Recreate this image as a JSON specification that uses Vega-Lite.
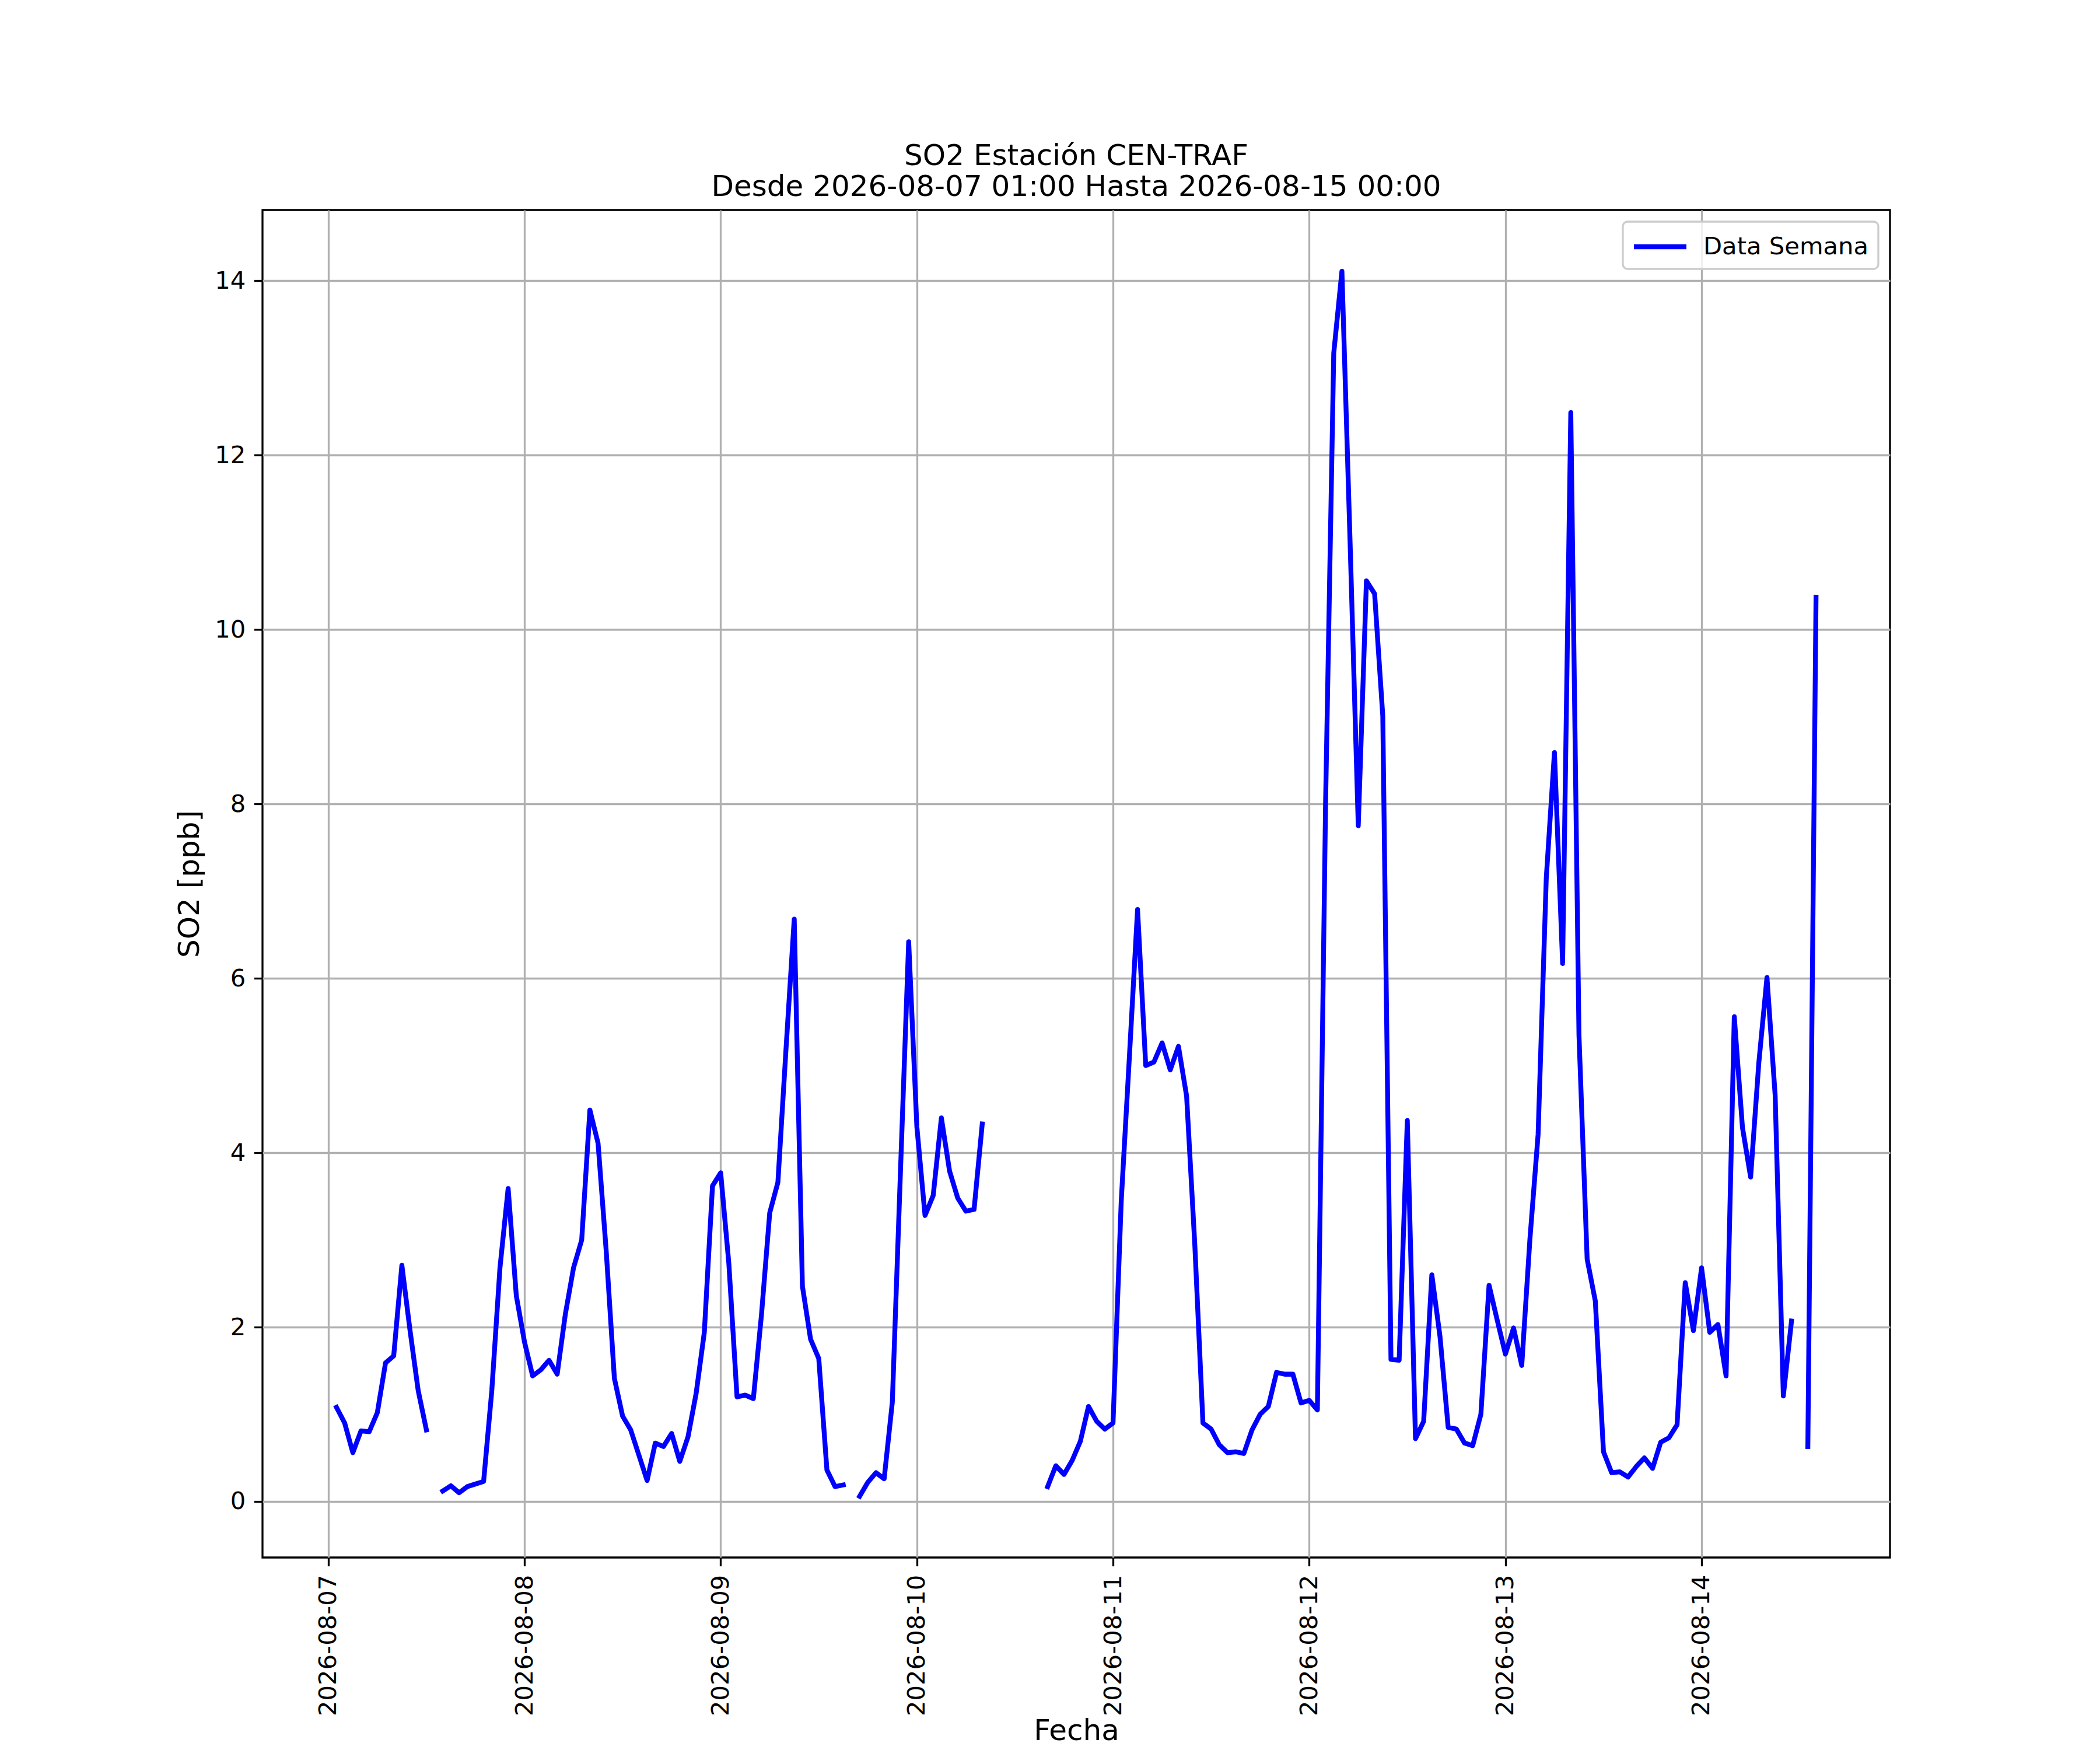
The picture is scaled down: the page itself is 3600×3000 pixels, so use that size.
{
  "$schema": "https://vega.github.io/schema/vega-lite/v6.json",
  "width": 2790,
  "height": 2310,
  "autosize": {"type": "none"},
  "padding": {"left": 450, "top": 360, "right": 360, "bottom": 330},
  "background": "white",
  "title": {
    "text": ["SO2 Estación CEN-TRAF", "Desde 2026-08-07 01:00 Hasta 2026-08-15 00:00"],
    "fontSize": 50,
    "font": "DejaVu Sans",
    "fontWeight": "normal",
    "color": "black",
    "anchor": "middle",
    "offset": 14,
    "lineHeight": 53
  },
  "data": {
    "values": [
      {"t": "2026-08-07T01:00", "v": 1.08, "seg": 1, "serie": "Data Semana"},
      {"t": "2026-08-07T02:00", "v": 0.90, "seg": 1, "serie": "Data Semana"},
      {"t": "2026-08-07T03:00", "v": 0.56, "seg": 1, "serie": "Data Semana"},
      {"t": "2026-08-07T04:00", "v": 0.81, "seg": 1, "serie": "Data Semana"},
      {"t": "2026-08-07T05:00", "v": 0.80, "seg": 1, "serie": "Data Semana"},
      {"t": "2026-08-07T06:00", "v": 1.02, "seg": 1, "serie": "Data Semana"},
      {"t": "2026-08-07T07:00", "v": 1.59, "seg": 1, "serie": "Data Semana"},
      {"t": "2026-08-07T08:00", "v": 1.67, "seg": 1, "serie": "Data Semana"},
      {"t": "2026-08-07T09:00", "v": 2.71, "seg": 1, "serie": "Data Semana"},
      {"t": "2026-08-07T10:00", "v": 1.96, "seg": 1, "serie": "Data Semana"},
      {"t": "2026-08-07T11:00", "v": 1.27, "seg": 1, "serie": "Data Semana"},
      {"t": "2026-08-07T12:00", "v": 0.82, "seg": 1, "serie": "Data Semana"},

      {"t": "2026-08-07T14:00", "v": 0.12, "seg": 2, "serie": "Data Semana"},
      {"t": "2026-08-07T15:00", "v": 0.18, "seg": 2, "serie": "Data Semana"},
      {"t": "2026-08-07T16:00", "v": 0.10, "seg": 2, "serie": "Data Semana"},
      {"t": "2026-08-07T17:00", "v": 0.17, "seg": 2, "serie": "Data Semana"},
      {"t": "2026-08-07T18:00", "v": 0.20, "seg": 2, "serie": "Data Semana"},
      {"t": "2026-08-07T19:00", "v": 0.23, "seg": 2, "serie": "Data Semana"},
      {"t": "2026-08-07T20:00", "v": 1.27, "seg": 2, "serie": "Data Semana"},
      {"t": "2026-08-07T21:00", "v": 2.68, "seg": 2, "serie": "Data Semana"},
      {"t": "2026-08-07T22:00", "v": 3.59, "seg": 2, "serie": "Data Semana"},
      {"t": "2026-08-07T23:00", "v": 2.36, "seg": 2, "serie": "Data Semana"},
      {"t": "2026-08-08T00:00", "v": 1.83, "seg": 2, "serie": "Data Semana"},
      {"t": "2026-08-08T01:00", "v": 1.44, "seg": 2, "serie": "Data Semana"},
      {"t": "2026-08-08T02:00", "v": 1.51, "seg": 2, "serie": "Data Semana"},
      {"t": "2026-08-08T03:00", "v": 1.62, "seg": 2, "serie": "Data Semana"},
      {"t": "2026-08-08T04:00", "v": 1.46, "seg": 2, "serie": "Data Semana"},
      {"t": "2026-08-08T05:00", "v": 2.15, "seg": 2, "serie": "Data Semana"},
      {"t": "2026-08-08T06:00", "v": 2.68, "seg": 2, "serie": "Data Semana"},
      {"t": "2026-08-08T07:00", "v": 3.00, "seg": 2, "serie": "Data Semana"},
      {"t": "2026-08-08T08:00", "v": 4.49, "seg": 2, "serie": "Data Semana"},
      {"t": "2026-08-08T09:00", "v": 4.11, "seg": 2, "serie": "Data Semana"},
      {"t": "2026-08-08T10:00", "v": 2.87, "seg": 2, "serie": "Data Semana"},
      {"t": "2026-08-08T11:00", "v": 1.41, "seg": 2, "serie": "Data Semana"},
      {"t": "2026-08-08T12:00", "v": 0.98, "seg": 2, "serie": "Data Semana"},
      {"t": "2026-08-08T13:00", "v": 0.82, "seg": 2, "serie": "Data Semana"},
      {"t": "2026-08-08T14:00", "v": 0.53, "seg": 2, "serie": "Data Semana"},
      {"t": "2026-08-08T15:00", "v": 0.24, "seg": 2, "serie": "Data Semana"},
      {"t": "2026-08-08T16:00", "v": 0.67, "seg": 2, "serie": "Data Semana"},
      {"t": "2026-08-08T17:00", "v": 0.63, "seg": 2, "serie": "Data Semana"},
      {"t": "2026-08-08T18:00", "v": 0.78, "seg": 2, "serie": "Data Semana"},
      {"t": "2026-08-08T19:00", "v": 0.46, "seg": 2, "serie": "Data Semana"},
      {"t": "2026-08-08T20:00", "v": 0.74, "seg": 2, "serie": "Data Semana"},
      {"t": "2026-08-08T21:00", "v": 1.24, "seg": 2, "serie": "Data Semana"},
      {"t": "2026-08-08T22:00", "v": 1.94, "seg": 2, "serie": "Data Semana"},
      {"t": "2026-08-08T23:00", "v": 3.62, "seg": 2, "serie": "Data Semana"},
      {"t": "2026-08-09T00:00", "v": 3.77, "seg": 2, "serie": "Data Semana"},
      {"t": "2026-08-09T01:00", "v": 2.73, "seg": 2, "serie": "Data Semana"},
      {"t": "2026-08-09T02:00", "v": 1.20, "seg": 2, "serie": "Data Semana"},
      {"t": "2026-08-09T03:00", "v": 1.22, "seg": 2, "serie": "Data Semana"},
      {"t": "2026-08-09T04:00", "v": 1.18, "seg": 2, "serie": "Data Semana"},
      {"t": "2026-08-09T05:00", "v": 2.15, "seg": 2, "serie": "Data Semana"},
      {"t": "2026-08-09T06:00", "v": 3.31, "seg": 2, "serie": "Data Semana"},
      {"t": "2026-08-09T07:00", "v": 3.66, "seg": 2, "serie": "Data Semana"},
      {"t": "2026-08-09T08:00", "v": 5.20, "seg": 2, "serie": "Data Semana"},
      {"t": "2026-08-09T09:00", "v": 6.68, "seg": 2, "serie": "Data Semana"},
      {"t": "2026-08-09T10:00", "v": 2.47, "seg": 2, "serie": "Data Semana"},
      {"t": "2026-08-09T11:00", "v": 1.86, "seg": 2, "serie": "Data Semana"},
      {"t": "2026-08-09T12:00", "v": 1.64, "seg": 2, "serie": "Data Semana"},
      {"t": "2026-08-09T13:00", "v": 0.36, "seg": 2, "serie": "Data Semana"},
      {"t": "2026-08-09T14:00", "v": 0.17, "seg": 2, "serie": "Data Semana"},
      {"t": "2026-08-09T15:00", "v": 0.19, "seg": 2, "serie": "Data Semana"},

      {"t": "2026-08-09T17:00", "v": 0.06, "seg": 3, "serie": "Data Semana"},
      {"t": "2026-08-09T18:00", "v": 0.22, "seg": 3, "serie": "Data Semana"},
      {"t": "2026-08-09T19:00", "v": 0.33, "seg": 3, "serie": "Data Semana"},
      {"t": "2026-08-09T20:00", "v": 0.26, "seg": 3, "serie": "Data Semana"},
      {"t": "2026-08-09T21:00", "v": 1.14, "seg": 3, "serie": "Data Semana"},
      {"t": "2026-08-09T22:00", "v": 3.80, "seg": 3, "serie": "Data Semana"},
      {"t": "2026-08-09T23:00", "v": 6.42, "seg": 3, "serie": "Data Semana"},
      {"t": "2026-08-10T00:00", "v": 4.30, "seg": 3, "serie": "Data Semana"},
      {"t": "2026-08-10T01:00", "v": 3.28, "seg": 3, "serie": "Data Semana"},
      {"t": "2026-08-10T02:00", "v": 3.51, "seg": 3, "serie": "Data Semana"},
      {"t": "2026-08-10T03:00", "v": 4.40, "seg": 3, "serie": "Data Semana"},
      {"t": "2026-08-10T04:00", "v": 3.79, "seg": 3, "serie": "Data Semana"},
      {"t": "2026-08-10T05:00", "v": 3.48, "seg": 3, "serie": "Data Semana"},
      {"t": "2026-08-10T06:00", "v": 3.33, "seg": 3, "serie": "Data Semana"},
      {"t": "2026-08-10T07:00", "v": 3.35, "seg": 3, "serie": "Data Semana"},
      {"t": "2026-08-10T08:00", "v": 4.33, "seg": 3, "serie": "Data Semana"},

      {"t": "2026-08-10T16:00", "v": 0.17, "seg": 4, "serie": "Data Semana"},
      {"t": "2026-08-10T17:00", "v": 0.41, "seg": 4, "serie": "Data Semana"},
      {"t": "2026-08-10T18:00", "v": 0.31, "seg": 4, "serie": "Data Semana"},
      {"t": "2026-08-10T19:00", "v": 0.47, "seg": 4, "serie": "Data Semana"},
      {"t": "2026-08-10T20:00", "v": 0.69, "seg": 4, "serie": "Data Semana"},
      {"t": "2026-08-10T21:00", "v": 1.09, "seg": 4, "serie": "Data Semana"},
      {"t": "2026-08-10T22:00", "v": 0.92, "seg": 4, "serie": "Data Semana"},
      {"t": "2026-08-10T23:00", "v": 0.83, "seg": 4, "serie": "Data Semana"},
      {"t": "2026-08-11T00:00", "v": 0.90, "seg": 4, "serie": "Data Semana"},
      {"t": "2026-08-11T01:00", "v": 3.44, "seg": 4, "serie": "Data Semana"},
      {"t": "2026-08-11T02:00", "v": 5.10, "seg": 4, "serie": "Data Semana"},
      {"t": "2026-08-11T03:00", "v": 6.79, "seg": 4, "serie": "Data Semana"},
      {"t": "2026-08-11T04:00", "v": 5.00, "seg": 4, "serie": "Data Semana"},
      {"t": "2026-08-11T05:00", "v": 5.04, "seg": 4, "serie": "Data Semana"},
      {"t": "2026-08-11T06:00", "v": 5.26, "seg": 4, "serie": "Data Semana"},
      {"t": "2026-08-11T07:00", "v": 4.95, "seg": 4, "serie": "Data Semana"},
      {"t": "2026-08-11T08:00", "v": 5.22, "seg": 4, "serie": "Data Semana"},
      {"t": "2026-08-11T09:00", "v": 4.65, "seg": 4, "serie": "Data Semana"},
      {"t": "2026-08-11T10:00", "v": 2.95, "seg": 4, "serie": "Data Semana"},
      {"t": "2026-08-11T11:00", "v": 0.90, "seg": 4, "serie": "Data Semana"},
      {"t": "2026-08-11T12:00", "v": 0.83, "seg": 4, "serie": "Data Semana"},
      {"t": "2026-08-11T13:00", "v": 0.65, "seg": 4, "serie": "Data Semana"},
      {"t": "2026-08-11T14:00", "v": 0.56, "seg": 4, "serie": "Data Semana"},
      {"t": "2026-08-11T15:00", "v": 0.57, "seg": 4, "serie": "Data Semana"},
      {"t": "2026-08-11T16:00", "v": 0.55, "seg": 4, "serie": "Data Semana"},
      {"t": "2026-08-11T17:00", "v": 0.82, "seg": 4, "serie": "Data Semana"},
      {"t": "2026-08-11T18:00", "v": 1.00, "seg": 4, "serie": "Data Semana"},
      {"t": "2026-08-11T19:00", "v": 1.09, "seg": 4, "serie": "Data Semana"},
      {"t": "2026-08-11T20:00", "v": 1.48, "seg": 4, "serie": "Data Semana"},
      {"t": "2026-08-11T21:00", "v": 1.46, "seg": 4, "serie": "Data Semana"},
      {"t": "2026-08-11T22:00", "v": 1.46, "seg": 4, "serie": "Data Semana"},
      {"t": "2026-08-11T23:00", "v": 1.13, "seg": 4, "serie": "Data Semana"},
      {"t": "2026-08-12T00:00", "v": 1.16, "seg": 4, "serie": "Data Semana"},
      {"t": "2026-08-12T01:00", "v": 1.05, "seg": 4, "serie": "Data Semana"},
      {"t": "2026-08-12T02:00", "v": 8.00, "seg": 4, "serie": "Data Semana"},
      {"t": "2026-08-12T03:00", "v": 13.17, "seg": 4, "serie": "Data Semana"},
      {"t": "2026-08-12T04:00", "v": 14.11, "seg": 4, "serie": "Data Semana"},
      {"t": "2026-08-12T05:00", "v": 11.00, "seg": 4, "serie": "Data Semana"},
      {"t": "2026-08-12T06:00", "v": 7.75, "seg": 4, "serie": "Data Semana"},
      {"t": "2026-08-12T07:00", "v": 10.56, "seg": 4, "serie": "Data Semana"},
      {"t": "2026-08-12T08:00", "v": 10.41, "seg": 4, "serie": "Data Semana"},
      {"t": "2026-08-12T09:00", "v": 9.01, "seg": 4, "serie": "Data Semana"},
      {"t": "2026-08-12T10:00", "v": 1.63, "seg": 4, "serie": "Data Semana"},
      {"t": "2026-08-12T11:00", "v": 1.62, "seg": 4, "serie": "Data Semana"},
      {"t": "2026-08-12T12:00", "v": 4.37, "seg": 4, "serie": "Data Semana"},
      {"t": "2026-08-12T13:00", "v": 0.72, "seg": 4, "serie": "Data Semana"},
      {"t": "2026-08-12T14:00", "v": 0.92, "seg": 4, "serie": "Data Semana"},
      {"t": "2026-08-12T15:00", "v": 2.60, "seg": 4, "serie": "Data Semana"},
      {"t": "2026-08-12T16:00", "v": 1.89, "seg": 4, "serie": "Data Semana"},
      {"t": "2026-08-12T17:00", "v": 0.85, "seg": 4, "serie": "Data Semana"},
      {"t": "2026-08-12T18:00", "v": 0.83, "seg": 4, "serie": "Data Semana"},
      {"t": "2026-08-12T19:00", "v": 0.67, "seg": 4, "serie": "Data Semana"},
      {"t": "2026-08-12T20:00", "v": 0.64, "seg": 4, "serie": "Data Semana"},
      {"t": "2026-08-12T21:00", "v": 1.00, "seg": 4, "serie": "Data Semana"},
      {"t": "2026-08-12T22:00", "v": 2.48, "seg": 4, "serie": "Data Semana"},
      {"t": "2026-08-12T23:00", "v": 2.08, "seg": 4, "serie": "Data Semana"},
      {"t": "2026-08-13T00:00", "v": 1.69, "seg": 4, "serie": "Data Semana"},
      {"t": "2026-08-13T01:00", "v": 1.99, "seg": 4, "serie": "Data Semana"},
      {"t": "2026-08-13T02:00", "v": 1.56, "seg": 4, "serie": "Data Semana"},
      {"t": "2026-08-13T03:00", "v": 3.01, "seg": 4, "serie": "Data Semana"},
      {"t": "2026-08-13T04:00", "v": 4.21, "seg": 4, "serie": "Data Semana"},
      {"t": "2026-08-13T05:00", "v": 7.15, "seg": 4, "serie": "Data Semana"},
      {"t": "2026-08-13T06:00", "v": 8.59, "seg": 4, "serie": "Data Semana"},
      {"t": "2026-08-13T07:00", "v": 6.17, "seg": 4, "serie": "Data Semana"},
      {"t": "2026-08-13T08:00", "v": 12.49, "seg": 4, "serie": "Data Semana"},
      {"t": "2026-08-13T09:00", "v": 5.35, "seg": 4, "serie": "Data Semana"},
      {"t": "2026-08-13T10:00", "v": 2.78, "seg": 4, "serie": "Data Semana"},
      {"t": "2026-08-13T11:00", "v": 2.30, "seg": 4, "serie": "Data Semana"},
      {"t": "2026-08-13T12:00", "v": 0.57, "seg": 4, "serie": "Data Semana"},
      {"t": "2026-08-13T13:00", "v": 0.33, "seg": 4, "serie": "Data Semana"},
      {"t": "2026-08-13T14:00", "v": 0.34, "seg": 4, "serie": "Data Semana"},
      {"t": "2026-08-13T15:00", "v": 0.28, "seg": 4, "serie": "Data Semana"},
      {"t": "2026-08-13T16:00", "v": 0.40, "seg": 4, "serie": "Data Semana"},
      {"t": "2026-08-13T17:00", "v": 0.50, "seg": 4, "serie": "Data Semana"},
      {"t": "2026-08-13T18:00", "v": 0.38, "seg": 4, "serie": "Data Semana"},
      {"t": "2026-08-13T19:00", "v": 0.68, "seg": 4, "serie": "Data Semana"},
      {"t": "2026-08-13T20:00", "v": 0.73, "seg": 4, "serie": "Data Semana"},
      {"t": "2026-08-13T21:00", "v": 0.88, "seg": 4, "serie": "Data Semana"},
      {"t": "2026-08-13T22:00", "v": 2.51, "seg": 4, "serie": "Data Semana"},
      {"t": "2026-08-13T23:00", "v": 1.96, "seg": 4, "serie": "Data Semana"},
      {"t": "2026-08-14T00:00", "v": 2.68, "seg": 4, "serie": "Data Semana"},
      {"t": "2026-08-14T01:00", "v": 1.94, "seg": 4, "serie": "Data Semana"},
      {"t": "2026-08-14T02:00", "v": 2.03, "seg": 4, "serie": "Data Semana"},
      {"t": "2026-08-14T03:00", "v": 1.44, "seg": 4, "serie": "Data Semana"},
      {"t": "2026-08-14T04:00", "v": 5.56, "seg": 4, "serie": "Data Semana"},
      {"t": "2026-08-14T05:00", "v": 4.29, "seg": 4, "serie": "Data Semana"},
      {"t": "2026-08-14T06:00", "v": 3.72, "seg": 4, "serie": "Data Semana"},
      {"t": "2026-08-14T07:00", "v": 5.03, "seg": 4, "serie": "Data Semana"},
      {"t": "2026-08-14T08:00", "v": 6.01, "seg": 4, "serie": "Data Semana"},
      {"t": "2026-08-14T09:00", "v": 4.66, "seg": 4, "serie": "Data Semana"},
      {"t": "2026-08-14T10:00", "v": 1.21, "seg": 4, "serie": "Data Semana"},
      {"t": "2026-08-14T11:00", "v": 2.07, "seg": 4, "serie": "Data Semana"},

      {"t": "2026-08-14T13:00", "v": 0.63, "seg": 5, "serie": "Data Semana"},
      {"t": "2026-08-14T14:00", "v": 10.37, "seg": 5, "serie": "Data Semana"}
    ]
  },
  "mark": {
    "type": "line",
    "strokeWidth": 8.3,
    "strokeCap": "square",
    "strokeJoin": "round"
  },
  "encoding": {
    "x": {
      "field": "t",
      "type": "temporal",
      "scale": {
        "domain": [
          {"year": 2026, "month": 8, "date": 6, "hours": 15, "minutes": 57},
          {"year": 2026, "month": 8, "date": 14, "hours": 23, "minutes": 3}
        ]
      },
      "axis": {
        "title": "Fecha",
        "values": [
          {"year": 2026, "month": 8, "date": 7},
          {"year": 2026, "month": 8, "date": 8},
          {"year": 2026, "month": 8, "date": 9},
          {"year": 2026, "month": 8, "date": 10},
          {"year": 2026, "month": 8, "date": 11},
          {"year": 2026, "month": 8, "date": 12},
          {"year": 2026, "month": 8, "date": 13},
          {"year": 2026, "month": 8, "date": 14}
        ],
        "format": "%Y-%m-%d",
        "labelAngle": -90,
        "labelLimit": 400,
        "titlePadding": 72
      }
    },
    "y": {
      "field": "v",
      "type": "quantitative",
      "scale": {"domain": [-0.6425, 14.8125], "nice": false, "zero": false},
      "axis": {
        "title": "SO2 [ppb]",
        "values": [0, 2, 4, 6, 8, 10, 12, 14],
        "format": "d",
        "labelLimit": 400,
        "titlePadding": 17
      }
    },
    "color": {
      "field": "serie",
      "type": "nominal",
      "scale": {"range": ["#0000ff"]},
      "legend": {
        "title": null,
        "orient": "top-right",
        "offset": 20,
        "symbolType": "M-2,0L2,0",
        "symbolSize": 2025,
        "symbolStrokeWidth": 8.3,
        "symbolOffset": 21,
        "labelOffset": 47,
        "labelLimit": 600,
        "padding": 16,
        "cornerRadius": 8,
        "strokeColor": "#cccccc",
        "fillColor": "rgba(255,255,255,0.8)",
        "encode": {
          "legend": {"update": {"strokeWidth": {"value": 3.3}}}
        }
      }
    },
    "detail": {"field": "seg", "type": "nominal"}
  },
  "config": {
    "font": "DejaVu Sans",
    "view": {"stroke": "black", "strokeWidth": 3.3},
    "axis": {
      "domain": false,
      "grid": true,
      "gridColor": "#b0b0b0",
      "gridWidth": 3.3,
      "tickColor": "black",
      "tickWidth": 3.3,
      "tickSize": 14.6,
      "labelPadding": 14.6,
      "labelFont": "DejaVu Sans",
      "labelFontSize": 41.7,
      "labelColor": "black",
      "labelOverlap": false,
      "labelFlush": false,
      "labelBound": false,
      "titleFont": "DejaVu Sans",
      "titleFontSize": 50,
      "titleFontWeight": "normal",
      "titleColor": "black"
    },
    "legend": {
      "labelFont": "DejaVu Sans",
      "labelFontSize": 41.7,
      "labelColor": "black"
    }
  }
}
